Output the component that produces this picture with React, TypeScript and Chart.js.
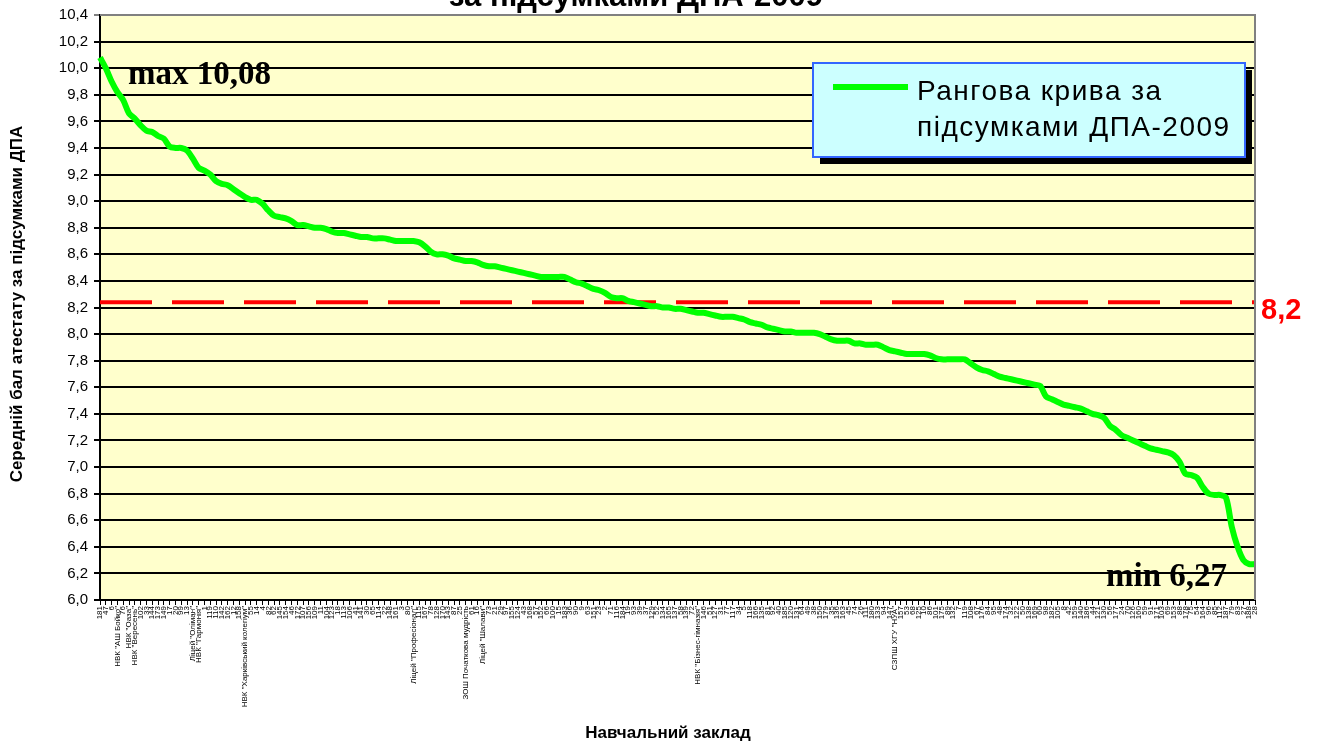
import React, { useEffect, useRef } from 'react';
import { Chart, registerables } from 'chart.js';

Chart.register(...registerables);

const schools: string[] = [
  '181', '47', '6', 'НВК "АШ Бойко"', '76', 'НВК "Оаза"', 'НВК "Вересень"', '102', '33', '144',
  '173', '149', '17', '20', '99', '13', 'Ліцей "Оліман"', 'НВК "Гармонія"', '1', '119',
  '110', '142', '162', '12', '158', 'НВК "Харківський колегіум"', '55', '14', '4', '82',
  '62', '145', '154', '46', '172', '107', '156', '109', '11', '104',
  '123', '18', '113', '106', '41', '141', '30', '65', '114', '22',
  '148', '161', '3', '80', 'Ліцей "Професіонал"', '115', '167', '78', '128', '170',
  '143', '87', '25', 'ЗОШ Початкова мудрість', '61', '16', 'Ліцей "Шалави"', '73', '21', '29',
  '97', '155', '124', '43', '168', '57', '152', '66', '100', '15',
  '183', '36', '90', '9', '63', '151', '23', '2', '71', '116',
  '184', '19', '93', '39', '37', '129', '52', '134', '165', '137',
  '58', '139', '72', 'НВК "Бізнес-гімназія"', '146', '51', '127', '31', '77', '117',
  '34', '5', '118', '166', '135', '81', '92', '40', '185', '120',
  '131', '64', '49', '38', '150', '179', '35', '136', '163', '45',
  '74', '26', '111', '180', '133', '94', '147', 'СЗПШ ХГУ "НУА"', '157', '53',
  '68', '125', '10', '86', '101', '175', '89', '132', '7', '119',
  '108', '67', '176', '84', '95', '48', '174', '32', '122', '50',
  '138', '169', '60', '98', '182', '105', '8', '42', '159', '140',
  '186', '44', '121', '130', '56', '177', '24', '70', '126', '160',
  '59', '91', '171', '103', '69', '153', '88', '178', '75', '54',
  '164', '96', '85', '112', '187', '79', '83', '27', '188', '28',
];

const scores: number[] = [
  10.08, 10.0, 9.9, 9.82, 9.76, 9.66, 9.62, 9.57, 9.53, 9.52,
  9.49, 9.47, 9.41, 9.4, 9.4, 9.38, 9.32, 9.25, 9.23, 9.2,
  9.15, 9.13, 9.12, 9.09, 9.06, 9.03, 9.01, 9.01, 8.98, 8.93,
  8.89, 8.88, 8.87, 8.85, 8.82, 8.82, 8.81, 8.8, 8.8, 8.79,
  8.77, 8.76, 8.76, 8.75, 8.74, 8.73, 8.73, 8.72, 8.72, 8.72,
  8.71, 8.7, 8.7, 8.7, 8.7, 8.69, 8.66, 8.62, 8.6, 8.6,
  8.59, 8.57, 8.56, 8.55, 8.55, 8.54, 8.52, 8.51, 8.51, 8.5,
  8.49, 8.48, 8.47, 8.46, 8.45, 8.44, 8.43, 8.43, 8.43, 8.43,
  8.43, 8.41, 8.39, 8.38, 8.36, 8.34, 8.33, 8.31, 8.28, 8.27,
  8.27, 8.25, 8.24, 8.23, 8.22, 8.21, 8.21, 8.2, 8.2, 8.19,
  8.19, 8.18, 8.17, 8.16, 8.16, 8.15, 8.14, 8.13, 8.13, 8.13,
  8.12, 8.11, 8.09, 8.08, 8.07, 8.05, 8.04, 8.03, 8.02, 8.02,
  8.01, 8.01, 8.01, 8.01, 8.0, 7.98, 7.96, 7.95, 7.95, 7.95,
  7.93, 7.93, 7.92, 7.92, 7.92, 7.9, 7.88, 7.87, 7.86, 7.85,
  7.85, 7.85, 7.85, 7.84, 7.82, 7.81, 7.81, 7.81, 7.81, 7.81,
  7.78, 7.75, 7.73, 7.72, 7.7, 7.68, 7.67, 7.66, 7.65, 7.64,
  7.63, 7.62, 7.61, 7.53, 7.51, 7.49, 7.47, 7.46, 7.45, 7.44,
  7.42, 7.4, 7.39, 7.37, 7.31, 7.28, 7.24, 7.22, 7.2, 7.18,
  7.16, 7.14, 7.13, 7.12, 7.11, 7.09, 7.04, 6.95, 6.94, 6.92,
  6.85, 6.8, 6.79, 6.79, 6.77, 6.55, 6.4, 6.3, 6.27, 6.27,
];

const averageScore = 8.24;
const averageLabel = '8,2';
const maxLabel = 'max 10,08';
const minLabel = 'min 6,27';
const yMin = 6.0;
const yMax = 10.4;
const yStep = 0.2;
const titleText = 'за підсумками ДПА-2009';
const legendLines = ['Рангова крива за', 'підсумками ДПА-2009'];
const yTitle = 'Середній бал атестату за підсумками ДПА';
const xTitle = 'Навчальний заклад';

const SANS = '"Liberation Sans", Arial, sans-serif';
const SERIF = '"Liberation Serif", "Times New Roman", serif';

export default function App() {
  const ref = useRef<HTMLCanvasElement>(null);

  useEffect(() => {
    const canvas = ref.current;
    if (!canvas) return;

    const decor = {
      id: 'decor',
      beforeDraw(chart: any) {
        const { ctx, chartArea: a } = chart;
        ctx.save();
        ctx.fillStyle = '#FFFFCC';
        ctx.fillRect(a.left, a.top, a.right - a.left, a.bottom - a.top);
        ctx.restore();
      },
      afterDraw(chart: any) {
        const { ctx, chartArea: a } = chart;
        ctx.save();
        // plot border (gray) top & right
        ctx.strokeStyle = '#808080';
        ctx.lineWidth = 2;
        ctx.beginPath();
        ctx.moveTo(a.left, a.top);
        ctx.lineTo(a.right, a.top);
        ctx.lineTo(a.right, a.bottom);
        ctx.stroke();

        // title (cut off at top)
        ctx.fillStyle = '#000';
        ctx.font = `bold 31px ${SANS}`;
        ctx.textAlign = 'center';
        ctx.textBaseline = 'alphabetic';
        ctx.fillText(titleText, 636, 6);

        // annotations
        ctx.font = `bold 33px ${SERIF}`;
        ctx.textAlign = 'left';
        ctx.textBaseline = 'middle';
        ctx.fillText(maxLabel, 128, 75);
        ctx.fillText(minLabel, 1106, 577);

        ctx.fillStyle = '#FF0000';
        ctx.font = `bold 29px ${SANS}`;
        ctx.fillText(averageLabel, 1261, 311);

        // legend
        const lx = 813, ly = 63, lw = 432, lh = 94;
        ctx.fillStyle = '#000';
        ctx.fillRect(lx + 7, ly + 7, lw, lh);
        ctx.fillStyle = '#CCFFFF';
        ctx.fillRect(lx, ly, lw, lh);
        ctx.strokeStyle = '#3366FF';
        ctx.lineWidth = 2;
        ctx.strokeRect(lx, ly, lw, lh);
        ctx.strokeStyle = '#00FF00';
        ctx.lineWidth = 6;
        ctx.beginPath();
        ctx.moveTo(833, 87);
        ctx.lineTo(908, 87);
        ctx.stroke();
        ctx.fillStyle = '#000';
        ctx.font = `28px ${SANS}`;
        (ctx as any).letterSpacing = '1.5px';
        ctx.textAlign = 'left';
        ctx.textBaseline = 'middle';
        ctx.fillText(legendLines[0], 917, 92);
        ctx.fillText(legendLines[1], 917, 128);
        (ctx as any).letterSpacing = '0px';

        // axis titles
        ctx.font = `bold 17px ${SANS}`;
        ctx.textAlign = 'center';
        ctx.textBaseline = 'middle';
        ctx.fillText(xTitle, 668, 733);
        ctx.save();
        ctx.translate(17, 304);
        ctx.rotate(-Math.PI / 2);
        ctx.fillText(yTitle, 0, 0);
        ctx.restore();

        ctx.restore();
      },
    };

    const chart = new Chart(canvas, {
      type: 'line',
      data: {
        labels: schools,
        datasets: [
          {
            label: legendLines.join(' '),
            data: scores,
            borderColor: '#00FF00',
            borderWidth: 6,
            pointRadius: 0,
            tension: 0.3,
            fill: false,
          },
          {
            label: 'avg',
            data: schools.map(() => averageScore),
            borderColor: '#FF0000',
            borderWidth: 4,
            borderDash: [52, 20],
            pointRadius: 0,
            fill: false,
          },
        ],
      },
      options: {
        animation: false,
        responsive: true,
        maintainAspectRatio: false,
        layout: { padding: { left: 0, right: 63, top: 15, bottom: 0 } },
        plugins: {
          legend: { display: false },
          title: { display: false },
          tooltip: { enabled: false },
        },
        scales: {
          x: {
            type: 'category',
            offset: false,
            afterFit(scale: any) {
              scale.height = 142;
            },
            grid: {
              display: true,
              drawOnChartArea: false,
              drawTicks: true,
              tickLength: 5,
              color: '#000',
              lineWidth: 1,
            },
            border: { display: true, color: '#000', width: 2 },
            ticks: {
              autoSkip: false,
              minRotation: 90,
              maxRotation: 90,
              padding: 1,
              color: '#000',
              font: { size: 8, family: SANS },
            },
          },
          y: {
            min: yMin,
            max: yMax,
            afterFit(scale: any) {
              scale.width = 100;
            },
            grid: {
              color: (c: any) => (Math.abs(c.tick?.value - yMax) < 1e-6 ? '#808080' : '#000'),
              lineWidth: 2,
              tickLength: 6,
            },
            border: { display: true, color: '#000', width: 2 },
            ticks: {
              stepSize: yStep,
              padding: 6,
              color: '#000',
              font: { size: 15, family: SANS },
              callback: (v: any) => Number(v).toFixed(1).replace('.', ','),
            },
          },
        },
      },
      plugins: [decor],
    });

    return () => chart.destroy();
  }, []);

  return (
    <div style={{ position: 'fixed', left: 0, top: 0, width: 1318, height: 742, background: '#fff' }}>
      <canvas ref={ref} />
    </div>
  );
}
